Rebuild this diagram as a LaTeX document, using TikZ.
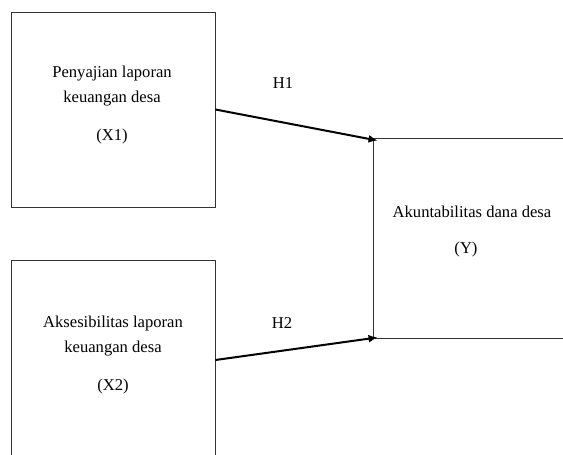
\documentclass[tikz,border=0pt]{standalone}
\usepackage{fontspec}
\setmainfont{Liberation Serif}
\usetikzlibrary{arrows.meta}
\begin{document}
\begin{tikzpicture}[x=1pt,y=-1pt,
  box/.style={draw=black!80,line width=0.9pt,rectangle,inner sep=0pt},
  txt/.style={anchor=base,inner sep=0pt,font=\fontsize{16.6}{18}\selectfont},
  arr/.style={draw=black,line width=2pt,-{Latex[length=9pt,width=8pt]}}]
\useasboundingbox (0,0) rectangle (563,455);
\clip (0,0) rectangle (563,455);
\fill[white] (0,0) rectangle (563,455);
% boxes
\node[box,minimum width=204pt,minimum height=195pt] (x1) at (113,109.5) {};
\node[box,minimum width=204pt,minimum height=200pt] (x2) at (113,360) {};
\node[box,minimum width=220pt,minimum height=200pt] (y) at (483,238) {};
% texts
\node[txt] (x1a) at (112,77) {Penyajian laporan};
\node[txt] (x1b) at (112,102) {keuangan desa};
\node[txt] (x1c) at (112,140) {(X1)};
\node[txt] (x2a) at (113,327) {Aksesibilitas laporan};
\node[txt] (x2b) at (113,352) {keuangan desa};
\node[txt] (x2c) at (113,390) {(X2)};
\node[txt] (ya) at (472,217) {Akuntabilitas dana desa};
\node[txt] (yb) at (466,253) {(Y)};
\node[txt] (h1) at (283,88) {H1};
\node[txt] (h2) at (282,328) {H2};
% arrows
\draw[arr] (x1.east) -- ([shift={(5,3)}]y.north west);
\draw[arr] (x2.east) -- ([shift={(5,-1)}]y.south west);
\end{tikzpicture}
\end{document}
